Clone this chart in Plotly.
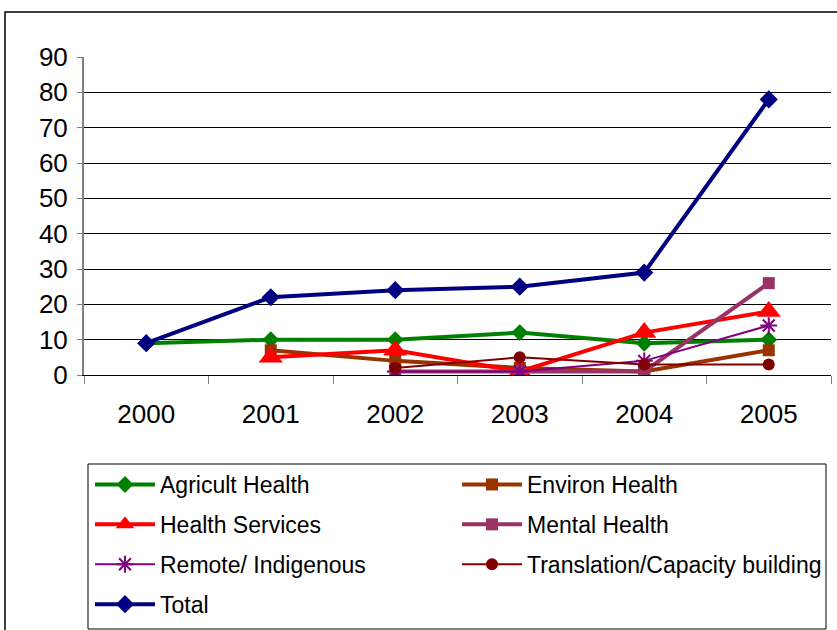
import plotly.graph_objects as go

years = ["2000", "2001", "2002", "2003", "2004", "2005"]
agricult = [9, 10, 10, 12, 9, 10]
environ = [None, 7, 4, 2, 1, 7]
health_services = [None, 5, 7, 1, 12, 18]
mental = [None, None, 1, 1, 1, 26]
remote = [None, None, 1, 1, 4, 14]
translation = [None, None, 2, 5, 3, 3]
total = [9, 22, 24, 25, 29, 78]
y_ticks = [0, 10, 20, 30, 40, 50, 60, 70, 80, 90]

W, H = 837, 630
L, R, T, B = 84, 6, 57, 255
pw, ph = W - L - R, H - T - B

def px_x(p):
    return (p - L) / pw

def px_y(p):
    return (H - B - p) / ph

series = [
    ("Agricult Health", agricult, "#008000", 4, "diamond", 13, "legend"),
    ("Environ Health", environ, "#993300", 4, "square", 12, "legend2"),
    ("Health Services", health_services, "#FF0000", 4, "triangle-up", 21, "legend"),
    ("Mental Health", mental, "#993366", 4, "square", 12, "legend2"),
    ("Remote/ Indigenous", remote, "#800080", 2, "asterisk-open", 14, "legend"),
    ("Translation/Capacity building", translation, "#800000", 2, "circle", 12, "legend2"),
    ("Total", total, "#000080", 4, "diamond", 14, "legend"),
]

fig = go.Figure()
for i, (name, vals, col, lw, sym, ms, lg) in enumerate(series):
    fig.add_trace(go.Scatter(
        x=years, y=vals, name=name, mode="lines+markers",
        line=dict(color=col, width=lw),
        marker=dict(symbol=sym, size=ms, color=col,
                    line=dict(color=col, width=2 if sym == "asterisk-open" else 0)),
        connectgaps=False, legend=lg, legendgroup=f"g{i}",
    ))

font_family = "Liberation Sans, Arial, sans-serif"
legend_common = dict(yanchor="top", xanchor="left", orientation="v",
                     tracegroupgap=7, itemwidth=60, font=dict(size=23),
                     bgcolor="rgba(0,0,0,0)")
fig.update_layout(
    width=W, height=H,
    margin=dict(l=L, r=R, t=T, b=B, autoexpand=False),
    paper_bgcolor="white", plot_bgcolor="white",
    font=dict(family=font_family, color="black"),
    xaxis=dict(type="category", range=[-0.5, 5.5], showgrid=False, showline=True,
               linecolor="black", linewidth=1, ticks="outside", ticklen=8,
               tickcolor="#808080", tickson="boundaries", tickfont=dict(size=26),
               ticklabelstandoff=16, zeroline=False, fixedrange=True),
    yaxis=dict(range=[0, 90], tickvals=y_ticks, showgrid=True, gridcolor="black",
               gridwidth=1, showline=True, linecolor="#808080", linewidth=2,
               ticks="outside", ticklen=5, tickcolor="#808080",
               tickfont=dict(size=26), ticklabelstandoff=4, zeroline=False,
               fixedrange=True),
    legend=dict(x=px_x(90), y=px_y(463), **legend_common),
    legend2=dict(x=px_x(457), y=px_y(463), **legend_common),
    shapes=[
        dict(type="rect", xref="paper", yref="paper",
             x0=px_x(5), x1=px_x(900), y0=px_y(700), y1=px_y(12),
             line=dict(color="black", width=1.5), layer="below"),
        dict(type="rect", xref="paper", yref="paper",
             x0=px_x(88), x1=px_x(826), y0=px_y(629), y1=px_y(464),
             line=dict(color="black", width=1), layer="below"),
    ],
)

fig.write_html("out.html", config={"displayModeBar": False},
               post_script="document.body.style.margin='0';")
